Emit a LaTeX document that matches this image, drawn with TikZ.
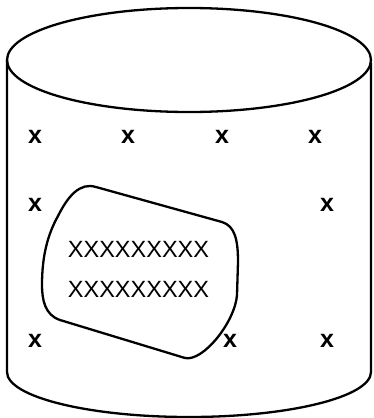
\documentclass[tikz,border=0pt]{standalone}
\usepackage{fontspec}
\setmainfont{Liberation Sans}
\begin{document}
\begin{tikzpicture}[x=1pt,y=-1pt,
  outline/.style={line width=2.3pt, line join=round},
  mark x/.style={font=\fontsize{25}{25}\selectfont\bfseries, inner sep=0pt},
  big x/.style={font=\fontsize{23.5}{23.5}\selectfont, inner sep=0pt}]
\useasboundingbox (0,0) rectangle (373,418);
% cylinder
\draw[outline] (189,60) ellipse [x radius=182, y radius=52];
\draw[outline] (7,60) -- (7,372) arc[start angle=180, end angle=360, x radius=182, y radius=-45] -- (371,63);
% blob
\draw[outline] (58,216) .. controls (68,196) and (80,182) .. (96,187)
  -- (222,222) .. controls (235,226) and (238,240) .. (238,262)
  -- (237,295) .. controls (235,322) and (203,362) .. (185,358)
  -- (60,320) .. controls (45,315) and (42,300) .. (42,285)
  .. controls (42,255) and (48,234) .. (58,216) -- cycle;
\node[big x] (l1) at (138.5,249) {XXXXXXXXX};
\node[big x] (l2) at (138.5,289) {XXXXXXXXX};
% marks
\node[mark x] (a1) at (35,137) {x};
\node[mark x] (a2) at (128,137) {x};
\node[mark x] (a3) at (222,137) {x};
\node[mark x] (a4) at (315,137) {x};
\node[mark x] (b1) at (35,205) {x};
\node[mark x] (b2) at (327,205) {x};
\node[mark x] (c1) at (35,341) {x};
\node[mark x] (c2) at (230,341) {x};
\node[mark x] (c3) at (327,341) {x};
\end{tikzpicture}
\end{document}
